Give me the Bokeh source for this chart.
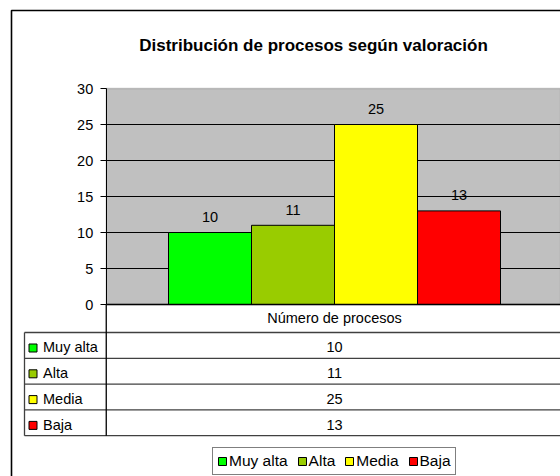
import numpy as np
from bokeh.plotting import figure
from bokeh.models import (Range1d, LinearAxis, FixedTicker, Label, BoxAnnotation,
                          Legend, LegendItem, ColumnDataSource)
from bokeh.core.properties import value
from bokeh.embed import file_html
from bokeh.resources import INLINE

# ---------------- data ----------------
chart_title = "Distribución de procesos según valoración"
series_name = "Número de procesos"
categories = ["Muy alta", "Alta", "Media", "Baja"]
values = [10, 11, 25, 13]
colors = ["#00FF00", "#99CC00", "#FFFF00", "#FF0000"]
y_ticks = [0, 5, 10, 15, 20, 25, 30]

# ---------------- layout (figure pixels) ----------------
FONT = "Liberation Sans"
FS = "14.5px"
W, H = 560, 476
PB, PT = 304, 88          # pixel rows of y=0 and y=max
YMAX = y_ticks[-1]
ppu_y = (PB - PT) / YMAX
BAR_PX = 83               # bar width in pixels
GROUP_LEFT = 168          # pixel column of first bar's left edge
GAP = 0.75                # gap on each side of the group (in bar widths)

xs = np.arange(len(values))
x_start = -0.5 - GROUP_LEFT / BAR_PX
x_end = x_start + W / BAR_PX
y_end = PB / ppu_y
y_start = y_end - H / ppu_y


def px_x(px):
    return x_start + px / BAR_PX


def px_y(py):
    return y_end - py / ppu_y


axis_x = xs[0] - 0.5 - GAP
center = float(np.mean(xs))

p = figure(width=W, height=H, x_range=Range1d(x_start, x_end), y_range=Range1d(y_start, y_end),
           output_backend="svg", toolbar_location=None, x_axis_location=None, y_axis_location=None,
           min_border=0, outline_line_color=None, background_fill_color="white",
           border_fill_color="white")
p.grid.visible = False

# plot area background
p.add_layout(BoxAnnotation(left=axis_x, bottom=0, top=YMAX, fill_color="#C0C0C0", fill_alpha=1,
                           line_color="#606060", line_width=1.3, level="underlay"))

# value labels
p.text(x=xs, y=values, text=[str(v) for v in values], text_align="center",
       text_baseline="middle", y_offset=-15.5, text_font=value(FONT), text_font_size=FS,
       text_color="black")

# grid lines
grid_vals = [t for t in y_ticks if 0 < t < YMAX]
p.segment(x0=axis_x, x1=x_end, y0=grid_vals, y1=grid_vals, line_color="black", line_width=1)

# bars
src = ColumnDataSource(dict(x=xs, top=values, color=colors))
p.vbar(x="x", top="top", bottom=0, width=1, fill_color="color", line_color="black",
       line_width=1, source=src)

# y axis
yax = LinearAxis(fixed_location=axis_x, bounds=(0, YMAX), ticker=FixedTicker(ticks=y_ticks),
                 axis_line_color="black", axis_line_width=1, major_tick_line_color="black",
                 major_tick_in=0, major_tick_out=6, minor_tick_line_color=None,
                 major_label_standoff=7, major_label_text_font=FONT,
                 major_label_text_font_size=FS, major_label_text_color="black")
p.add_layout(yax, "left")

# x axis (category)
xax = LinearAxis(fixed_location=0, bounds=(axis_x, x_end), ticker=FixedTicker(ticks=[center]),
                 major_label_overrides={center: series_name}, axis_line_color="black",
                 axis_line_width=1.6, major_tick_line_color=None, minor_tick_line_color=None,
                 major_label_standoff=-1, major_label_text_font=FONT,
                 major_label_text_font_size=FS, major_label_text_color="black")
p.add_layout(xax, "below")

# ---------------- data table ----------------
TBL_LEFT = 24
ROW_TOP = 332
ROW_H = 25.8
n = len(categories)
row_tops = [ROW_TOP + i * ROW_H for i in range(n + 1)]
line_c = "#404040"
p.segment(x0=px_x(TBL_LEFT), x1=x_end, y0=[px_y(r) for r in row_tops],
          y1=[px_y(r) for r in row_tops], line_color=line_c, line_width=1.3)
p.segment(x0=[px_x(TBL_LEFT), axis_x], x1=[px_x(TBL_LEFT), axis_x],
          y0=[px_y(ROW_TOP), 0], y1=[px_y(row_tops[-1]), px_y(row_tops[-1])],
          line_color=[line_c, "black"], line_width=1.3)

mid_y = [px_y(ROW_TOP + i * ROW_H + 14.7) for i in range(n)]
sq_y = [px_y(ROW_TOP + i * ROW_H + 15.5) for i in range(n)]
p.text(x=px_x(42.5), y=mid_y, text=categories, text_align="left", text_baseline="middle",
       text_font=value(FONT), text_font_size=FS, text_color="black")
sq = p.rect(x=px_x(32.5), y=sq_y, width=8, height=8, width_units="screen",
            height_units="screen", fill_color=colors, line_color="black", line_width=1)
p.text(x=center, y=mid_y, text=[str(v) for v in values], text_align="center",
       text_baseline="middle", text_font=value(FONT), text_font_size=FS, text_color="black")

# outer chart border
p.line(x=[px_x(W), px_x(11), px_x(11)], y=[px_y(10), px_y(10), px_y(H)], line_color="black",
       line_width=1.6)

# title
p.add_layout(Label(x=px_x(313), y=px_y(45), text=chart_title, text_align="center",
                   text_baseline="middle", text_font=FONT, text_font_size="17px",
                   text_font_style="bold", text_color="black"))

# legend
legend = Legend(items=[LegendItem(label=c, renderers=[sq], index=i)
                       for i, c in enumerate(categories)],
                orientation="horizontal", location=(212, H - 475),
                glyph_width=10, glyph_height=10, label_standoff=2, spacing=9,
                padding=4, label_height=17, label_text_font=FONT, label_text_font_size="15.5px",
                label_text_color="black", border_line_color="black", border_line_width=1,
                background_fill_color="white", background_fill_alpha=1, margin=0)
p.add_layout(legend, "center")

open("out.html", "w").write(file_html(p, INLINE))
